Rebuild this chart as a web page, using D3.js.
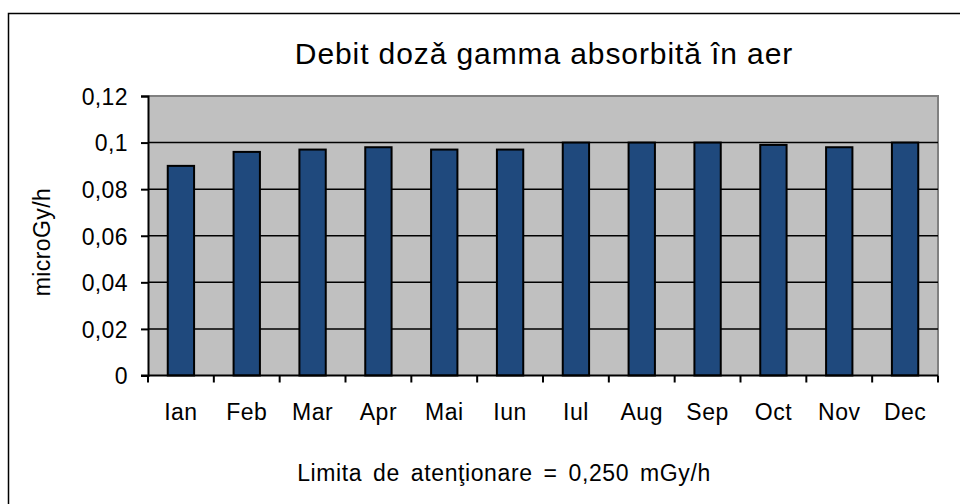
<!DOCTYPE html>
<html>
<head>
<meta charset="utf-8">
<script src="https://cdn.jsdelivr.net/npm/d3@7"></script>
<style>
  body { margin: 0; background: #fff; }
  svg text { font-family: Arial, "Liberation Sans", sans-serif; fill: #000; }
</style>
</head>
<body>
<div id="chart"></div>
<script>
var months = ["Ian","Feb","Mar","Apr","Mai","Iun","Iul","Aug","Sep","Oct","Nov","Dec"]
var values = [0.090,0.096,0.097,0.098,0.097,0.097,0.100,0.100,0.100,0.099,0.098,0.100]
var y_ticks = [0,0.02,0.04,0.06,0.08,0.1,0.12]
var title = "Debit dozǎ gamma absorbită în aer"
var y_title = "microGy/h"
var note = "Limita de atenţionare = 0,250 mGy/h"

var width = 960, height = 504
var plot = {left: 148, right: 938, top: 96, bottom: 375.5}
var fmt = function(d){ return String(d).replace('.', ',') }

var svg = d3.select('#chart').append('svg')
    .attr('width', width)
    .attr('height', height)

// outer chart border (cropped on right and bottom)
svg.append('rect')
    .attr('x', 8.5).attr('y', 13.5)
    .attr('width', 1000).attr('height', 600)
    .attr('fill', '#fff')
    .attr('stroke', '#000')
    .attr('stroke-width', 1.5)

var x = d3.scaleBand()
    .domain(months)
    .range([plot.left, plot.right])
    .paddingInner(0.6)
    .paddingOuter(0.3)

var y = d3.scaleLinear()
    .domain([0, 0.12])
    .range([plot.bottom, plot.top])

// plot background
svg.append('rect')
    .attr('x', plot.left).attr('y', plot.top)
    .attr('width', plot.right - plot.left)
    .attr('height', plot.bottom - plot.top)
    .attr('fill', '#c0c0c0')

svg.append('path')
    .attr('d', 'M' + plot.left + ',' + plot.top + 'H' + plot.right + 'V' + plot.bottom)
    .attr('fill', 'none')
    .attr('stroke', '#808080')
    .attr('stroke-width', 2)

// gridlines
svg.append('g')
    .selectAll('line')
    .data(y_ticks.filter(function(d){ return d > 0 && d < 0.12 }))
    .enter()
    .append('line')
    .attr('x1', plot.left).attr('x2', plot.right)
    .attr('y1', function(d){ return y(d) })
    .attr('y2', function(d){ return y(d) })
    .attr('stroke', '#000')
    .attr('stroke-width', 1.5)

// bars
svg.append('g')
    .selectAll('rect')
    .data(values)
    .enter()
    .append('rect')
    .attr('x', function(d, i){ return x(months[i]) })
    .attr('y', function(d){ return y(d) })
    .attr('width', x.bandwidth())
    .attr('height', function(d){ return y(0) - y(d) })
    .attr('fill', '#1f497d')
    .attr('stroke', '#000')
    .attr('stroke-width', 2)

// y axis
var y_axis = d3.axisLeft(y)
    .tickValues(y_ticks)
    .tickSize(7)
    .tickPadding(13)
    .tickFormat(fmt)

var gy = svg.append('g')
    .attr('transform', 'translate(' + plot.left + ',0)')
    .call(y_axis)
gy.select('.domain').attr('stroke', '#000').attr('stroke-width', 2)
gy.selectAll('.tick line').attr('stroke', '#000').attr('stroke-width', 2)
gy.selectAll('.tick text').attr('font-size', 23).attr('dy', '0.36em').attr('letter-spacing', 0.4)

// x axis, ticks at category boundaries
var step = (plot.right - plot.left) / months.length
svg.append('line')
    .attr('x1', plot.left - 7).attr('x2', plot.right)
    .attr('y1', plot.bottom).attr('y2', plot.bottom)
    .attr('stroke', '#000').attr('stroke-width', 2)

svg.append('g')
    .selectAll('line')
    .data(d3.range(months.length + 1))
    .enter()
    .append('line')
    .attr('x1', function(i){ return plot.left + i * step })
    .attr('x2', function(i){ return plot.left + i * step })
    .attr('y1', plot.bottom).attr('y2', plot.bottom + 7)
    .attr('stroke', '#000').attr('stroke-width', 2)

svg.append('g')
    .selectAll('text')
    .data(months)
    .enter()
    .append('text')
    .attr('x', function(d){ return x(d) + x.bandwidth() / 2 })
    .attr('y', 420)
    .attr('text-anchor', 'middle')
    .attr('font-size', 23)
    .attr('letter-spacing', 0.5)
    .text(function(d){ return d })

// titles
svg.append('text')
    .attr('x', 544).attr('y', 64)
    .attr('text-anchor', 'middle')
    .attr('font-size', 30)
    .attr('letter-spacing', 0.9)
    .text(title)

svg.append('text')
    .attr('transform', 'translate(50,242) rotate(-90)')
    .attr('text-anchor', 'middle')
    .attr('font-size', 23)
    .attr('letter-spacing', 0.4)
    .text(y_title)

svg.append('text')
    .attr('x', 504).attr('y', 481)
    .attr('text-anchor', 'middle')
    .attr('font-size', 23)
    .attr('word-spacing', 4)
    .attr('letter-spacing', 0.6)
    .text(note)
</script>
</body>
</html>
